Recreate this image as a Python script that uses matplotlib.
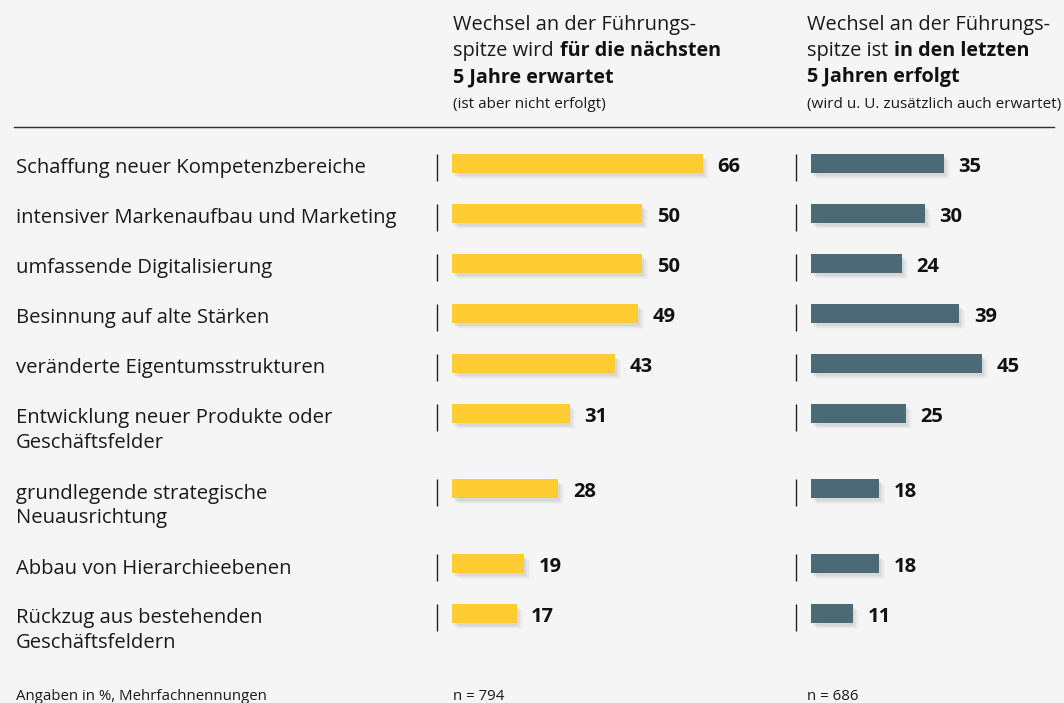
import matplotlib
matplotlib.use("Agg")
import matplotlib.pyplot as plt
from matplotlib.transforms import blended_transform_factory

plt.rcParams['font.family'] = ['Open Sans', 'DejaVu Sans']

categories = [
    "Schaffung neuer Kompetenzbereiche",
    "intensiver Markenaufbau und Marketing",
    "umfassende Digitalisierung",
    "Besinnung auf alte Stärken",
    "veränderte Eigentumsstrukturen",
    "Entwicklung neuer Produkte oder\nGeschäftsfelder",
    "grundlegende strategische\nNeuausrichtung",
    "Abbau von Hierarchieebenen",
    "Rückzug aus bestehenden\nGeschäftsfeldern",
]
erwartet = [66, 50, 50, 49, 43, 31, 28, 19, 17]
erfolgt = [35, 30, 24, 39, 45, 25, 18, 18, 11]

n_erwartet = 794
n_erfolgt = 686

bg = "#f5f5f5"
yellow = "#ffcc33"
teal = "#4c6a76"
ink = "#1a1a1a"

W, H = 1064, 703
fig = plt.figure(figsize=(W / 100, H / 100), dpi=100, facecolor=bg)

# row centres in pixel units (extra room for two-line labels)
ypos = []
y = 163.5
for c in categories:
    ypos.append(y)
    y += 50 + 25 * c.count("\n")

px = 3.8  # pixels per percent


def make_ax(x0, x1, start):
    ax = fig.add_axes([x0 / W, 1 - 680 / H, (x1 - x0) / W, (680 - 130) / H])
    ax.set_xlim((x0 - start) / px, (x1 - start) / px)
    ax.set_ylim(680, 130)
    ax.axis('off')
    ax.patch.set_alpha(0)
    return ax


def draw_bars(ax, vals, color):
    # soft shadow
    for dx, dy, a in [(1.6, 6, 0.04), (1.2, 5, 0.05), (0.8, 4, 0.07), (0.4, 3, 0.08)]:
        ax.barh([p + dy for p in ypos], vals, left=dx, height=19,
                color='#777777', alpha=a, linewidth=0)
    ax.barh(ypos, vals, height=19, color=color, linewidth=0)
    ax.vlines([-15 / px] * len(ypos), [p - 10 for p in ypos],
              [p + 17 for p in ypos], color='#222222', linewidth=1)
    for v, p in zip(vals, ypos):
        ax.annotate(str(v), (v, p + 8.5), xytext=(10.5, 0), textcoords='offset points',
                    va='baseline', ha='left', fontsize=14.5, fontweight='bold',
                    color='#111111')


ax1 = make_ax(430, 790, 452)
ax2 = make_ax(790, 1064, 811)
draw_bars(ax1, erwartet, yellow)
draw_bars(ax2, erfolgt, teal)

tr = blended_transform_factory(fig.transFigure, ax1.transData)
for c, p in zip(categories, ypos):
    for i, line in enumerate(c.split("\n")):
        fig.text(16 / W, p + 10 + 24.5 * i, line, transform=tr, va='baseline',
                 ha='left', fontsize=14.6, color=ink)


# header
def header(x, norm2, bold2, bold3, small):
    fx = x / W
    fig.text(fx, 1 - 30 / H, "Wechsel an der Führungs-", fontsize=14.4,
             va='baseline', color=ink)
    t = fig.text(fx, 1 - 56 / H, norm2, fontsize=14.4, va='baseline',
                 color=ink)
    ax1.annotate(bold2, xy=(1, 0), xycoords=t, xytext=(4.5, 0),
                 textcoords='offset points', va='bottom', ha='left',
                 fontsize=14.2, fontweight='bold', color='#111111',
                 annotation_clip=False)
    fig.text(fx, 1 - 82 / H, bold3, fontsize=14.2, va='baseline',
             fontweight='bold', color='#111111')
    fig.text(fx, 1 - 108 / H, small, fontsize=11, va='baseline',
             color=ink)


header(453, "spitze wird", "für die nächsten", "5 Jahre erwartet",
       "(ist aber nicht erfolgt)")
header(807, "spitze ist", "in den letzten", "5 Jahren erfolgt",
       "(wird u. U. zusätzlich auch erwartet)")

fig.add_artist(plt.Line2D([14 / W, 1054 / W], [1 - 127 / H, 1 - 127 / H],
                          color='#333333', linewidth=1))

# footer
fig.text(16 / W, 1 - 697 / H, "Angaben in %, Mehrfachnennungen", fontsize=10.8,
         va='center', color=ink)
fig.text(453 / W, 1 - 697 / H, f"n = {n_erwartet}", fontsize=10.8,
         va='center', color=ink)
fig.text(807 / W, 1 - 697 / H, f"n = {n_erfolgt}", fontsize=10.8,
         va='center', color=ink)

fig.savefig("out.png", dpi=100, facecolor=bg)
